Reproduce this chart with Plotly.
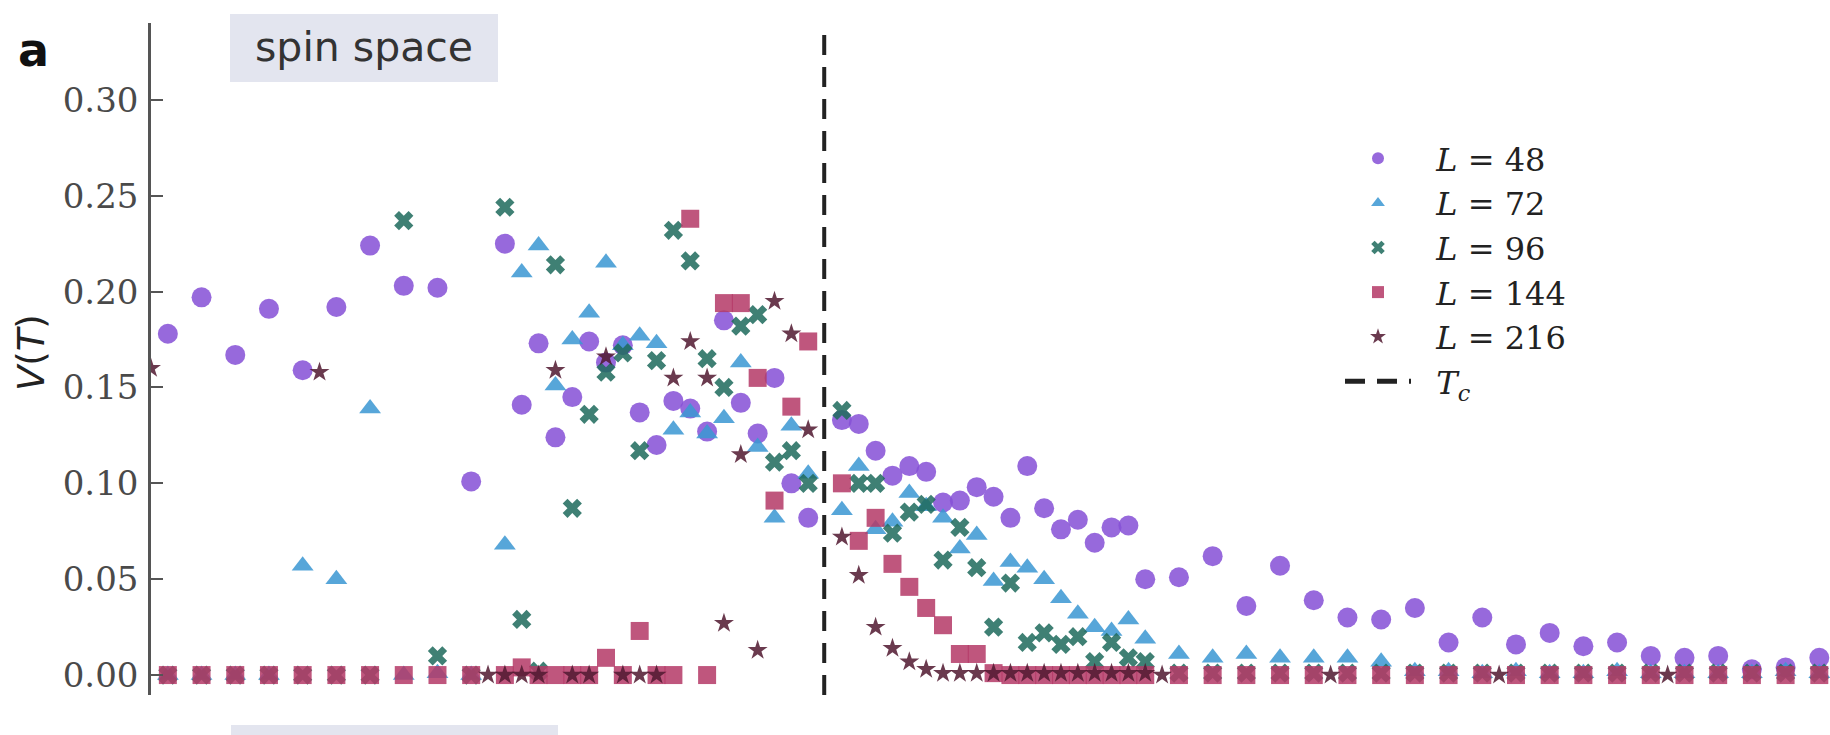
import plotly.graph_objects as go

# ---- temperature grid (coarse far from Tc, fine near Tc) ----
T = [1.49, 1.53, 1.57, 1.61, 1.65, 1.69, 1.73, 1.77, 1.81, 1.85,
     1.89, 1.91, 1.93, 1.95, 1.97, 1.99, 2.01, 2.03, 2.05, 2.07,
     2.09, 2.11, 2.13, 2.15, 2.17, 2.19, 2.21, 2.23, 2.25,
     2.29, 2.31, 2.33, 2.35, 2.37, 2.39, 2.41, 2.43, 2.45, 2.47,
     2.49, 2.51, 2.53, 2.55, 2.57, 2.59, 2.61, 2.63, 2.65,
     2.69, 2.73, 2.77, 2.81, 2.85, 2.89, 2.93, 2.97, 3.01, 3.05,
     3.09, 3.13, 3.17, 3.21, 3.25, 3.29, 3.33, 3.37, 3.41, 3.45]

# L = 216 was sampled on its own coarse grid plus the same fine grid
T_216 = [1.47, 1.67, 1.87,
         1.89, 1.91, 1.93, 1.95, 1.97, 1.99, 2.01, 2.03, 2.05, 2.07,
         2.09, 2.11, 2.13, 2.15, 2.17, 2.19, 2.21, 2.23, 2.25,
         2.29, 2.31, 2.33, 2.35, 2.37, 2.39, 2.41, 2.43, 2.45, 2.47,
         2.49, 2.51, 2.53, 2.55, 2.57, 2.59, 2.61, 2.63, 2.65,
         2.67, 2.87, 3.07, 3.27]

T_C = 2.269

V_48 = [0.178, 0.197, 0.167, 0.191, 0.159, 0.192, 0.224, 0.203, 0.202, 0.101,
        0.225, 0.141, 0.173, 0.124, 0.145, 0.174, 0.163, 0.172, 0.137, 0.120,
        0.143, 0.139, 0.127, 0.185, 0.142, 0.126, 0.155, 0.100, 0.082,
        0.133, 0.131, 0.117, 0.104, 0.109, 0.106, 0.090, 0.091, 0.098, 0.093,
        0.082, 0.109, 0.087, 0.076, 0.081, 0.069, 0.077, 0.078, 0.050,
        0.051, 0.062, 0.036, 0.057, 0.039, 0.030, 0.029, 0.035, 0.017, 0.030,
        0.016, 0.022, 0.015, 0.017, 0.010, 0.009, 0.010, 0.003, 0.004, 0.009]

V_72 = [0.000, 0.000, 0.000, 0.000, 0.057, 0.050, 0.139, 0.000, 0.001, 0.000,
        0.068, 0.210, 0.224, 0.151, 0.175, 0.189, 0.215, 0.172, 0.177, 0.173,
        0.128, 0.137, 0.126, 0.134, 0.163, 0.119, 0.082, 0.130, 0.105,
        0.086, 0.109, 0.076, 0.080, 0.095, 0.088, 0.082, 0.066, 0.073, 0.049,
        0.059, 0.056, 0.050, 0.040, 0.032, 0.025, 0.023, 0.029, 0.019,
        0.011, 0.009, 0.011, 0.009, 0.009, 0.009, 0.007, 0.002, 0.002, 0.001,
        0.002, 0.001, 0.001, 0.002, 0.001, 0.001, 0.001, 0.001, 0.002, 0.001]

V_96 = [0.000, 0.000, 0.000, 0.000, 0.000, 0.000, 0.000, 0.237, 0.010, 0.000,
        0.244, 0.029, 0.002, 0.214, 0.087, 0.136, 0.158, 0.168, 0.117, 0.164,
        0.232, 0.216, 0.165, 0.150, 0.182, 0.188, 0.111, 0.117, 0.100,
        0.138, 0.100, 0.100, 0.074, 0.085, 0.089, 0.060, 0.077, 0.056, 0.025,
        0.048, 0.017, 0.022, 0.016, 0.020, 0.007, 0.017, 0.009, 0.007,
        0.001, 0.001, 0.001, 0.001, 0.001, 0.001, 0.001, 0.001, 0.001, 0.001,
        0.001, 0.001, 0.001, 0.001, 0.001, 0.001, 0.001, 0.001, 0.001, 0.001]

V_144 = [0.000, 0.000, 0.000, 0.000, 0.000, 0.000, 0.000, 0.000, 0.000, 0.000,
         0.000, 0.004, 0.000, 0.000, 0.000, 0.000, 0.009, 0.000, 0.023, 0.000,
         0.000, 0.238, 0.000, 0.194, 0.194, 0.155, 0.091, 0.140, 0.174,
         0.100, 0.070, 0.082, 0.058, 0.046, 0.035, 0.026, 0.011, 0.011, 0.001,
         0.000, 0.000, 0.000, 0.000, 0.000, 0.000, 0.000, 0.000, 0.000,
         0.000, 0.000, 0.000, 0.000, 0.000, 0.000, 0.000, 0.000, 0.000, 0.000,
         0.000, 0.000, 0.000, 0.000, 0.000, 0.000, 0.000, 0.000, 0.000, 0.000]

V_216 = [0.160, 0.158, 0.000,
         0.000, 0.000, 0.000, 0.159, 0.000, 0.000, 0.166, 0.000, 0.000, 0.000,
         0.155, 0.174, 0.155, 0.027, 0.115, 0.013, 0.195, 0.178, 0.128,
         0.072, 0.052, 0.025, 0.014, 0.007, 0.003, 0.001, 0.001, 0.001, 0.001,
         0.001, 0.001, 0.001, 0.001, 0.001, 0.001, 0.001, 0.001, 0.001,
         0.000, 0.000, 0.000, 0.000]

Y_TICKS = [0.00, 0.05, 0.10, 0.15, 0.20, 0.25, 0.30]

# ---- page geometry ----
W, H = 1830, 735
ML, MR, MT, MB = 151, 0, 23, 40
X_RANGE = [1.47, 3.4627]
Y_RANGE = [-0.0104, 0.3401]


def px(x):
    return (x - ML) / (W - ML - MR)


def py(y):
    return (H - MB - y) / (H - MT - MB)


GAP = "&nbsp;&nbsp;"
series = [
    (GAP + "<i>L</i> = 48", T, V_48, "circle", 20, "#8650d6"),
    (GAP + "<i>L</i> = 72", T, V_72, "triangle-up", 19, "#3b97d3"),
    (GAP + "<i>L</i> = 96", T, V_96, "x", 17, "#1f6b5d"),
    (GAP + "<i>L</i> = 144", T, V_144, "square", 18, "#b53a68"),
    (GAP + "<i>L</i> = 216", T_216, V_216, "star", 15, "#521a31"),
]

fig = go.Figure()
for name, xs, ys, sym, size, col in series:
    fig.add_trace(go.Scatter(
        x=xs, y=ys, mode="markers", name=name, cliponaxis=True,
        marker=dict(symbol=sym, size=size, color=col, opacity=0.86,
                    line=dict(width=0)),
    ))

fig.add_trace(go.Scatter(
    x=[T_C, T_C], y=Y_RANGE, mode="lines",
    name=GAP + "<i>T</i><sub><i>c</i></sub>",
    line=dict(color="#222222", width=4, dash="20px,12px"),
))

fig.update_layout(
    width=W, height=H,
    margin=dict(l=ML, r=MR, t=MT, b=MB, pad=0),
    paper_bgcolor="white", plot_bgcolor="white",
    showlegend=True,
    legend=dict(
        x=px(1340), y=py(131), xanchor="left", yanchor="top",
        font=dict(family="DejaVu Serif", size=32, color="#222222"),
        itemsizing="constant", itemwidth=66,
        bgcolor="rgba(0,0,0,0)", borderwidth=0,
    ),
    xaxis=dict(range=X_RANGE, visible=False, showgrid=False, zeroline=False),
    yaxis=dict(
        range=Y_RANGE, showgrid=False, zeroline=False,
        showline=True, linecolor="#555555", linewidth=2.5,
        ticks="inside", ticklen=12, tickwidth=2, tickcolor="#555555",
        tickvals=Y_TICKS, ticktext=[f"{v:.2f}" for v in Y_TICKS],
        tickfont=dict(family="DejaVu Serif", size=34, color="#4a4a4a"),
        ticklabelstandoff=3,
    ),
    shapes=[
        dict(type="rect", xref="paper", yref="paper",
             x0=px(230), x1=px(498), y0=py(82), y1=py(14),
             fillcolor="#e3e5ef", line=dict(width=0), layer="below"),
        dict(type="rect", xref="paper", yref="paper",
             x0=px(231), x1=px(558), y0=py(760), y1=py(725),
             fillcolor="#e3e5ef", line=dict(width=0), layer="below"),
    ],
    annotations=[
        dict(text="spin space", xref="paper", yref="paper",
             x=px(364), y=py(47), xanchor="center", yanchor="middle",
             showarrow=False,
             font=dict(family="DejaVu Sans", size=41, color="#333333")),
        dict(text="<b>a</b>", xref="paper", yref="paper",
             x=px(33), y=py(50), xanchor="center", yanchor="middle",
             showarrow=False,
             font=dict(family="DejaVu Sans", size=46, color="#111111")),
        dict(text="<i>V</i>(<i>T</i>)", xref="paper", yref="paper",
             x=px(31), y=py(352), xanchor="center", yanchor="middle",
             textangle=-90, showarrow=False,
             font=dict(family="DejaVu Sans", size=37, color="#222222")),
    ],
)

fig.write_html("out.html")
